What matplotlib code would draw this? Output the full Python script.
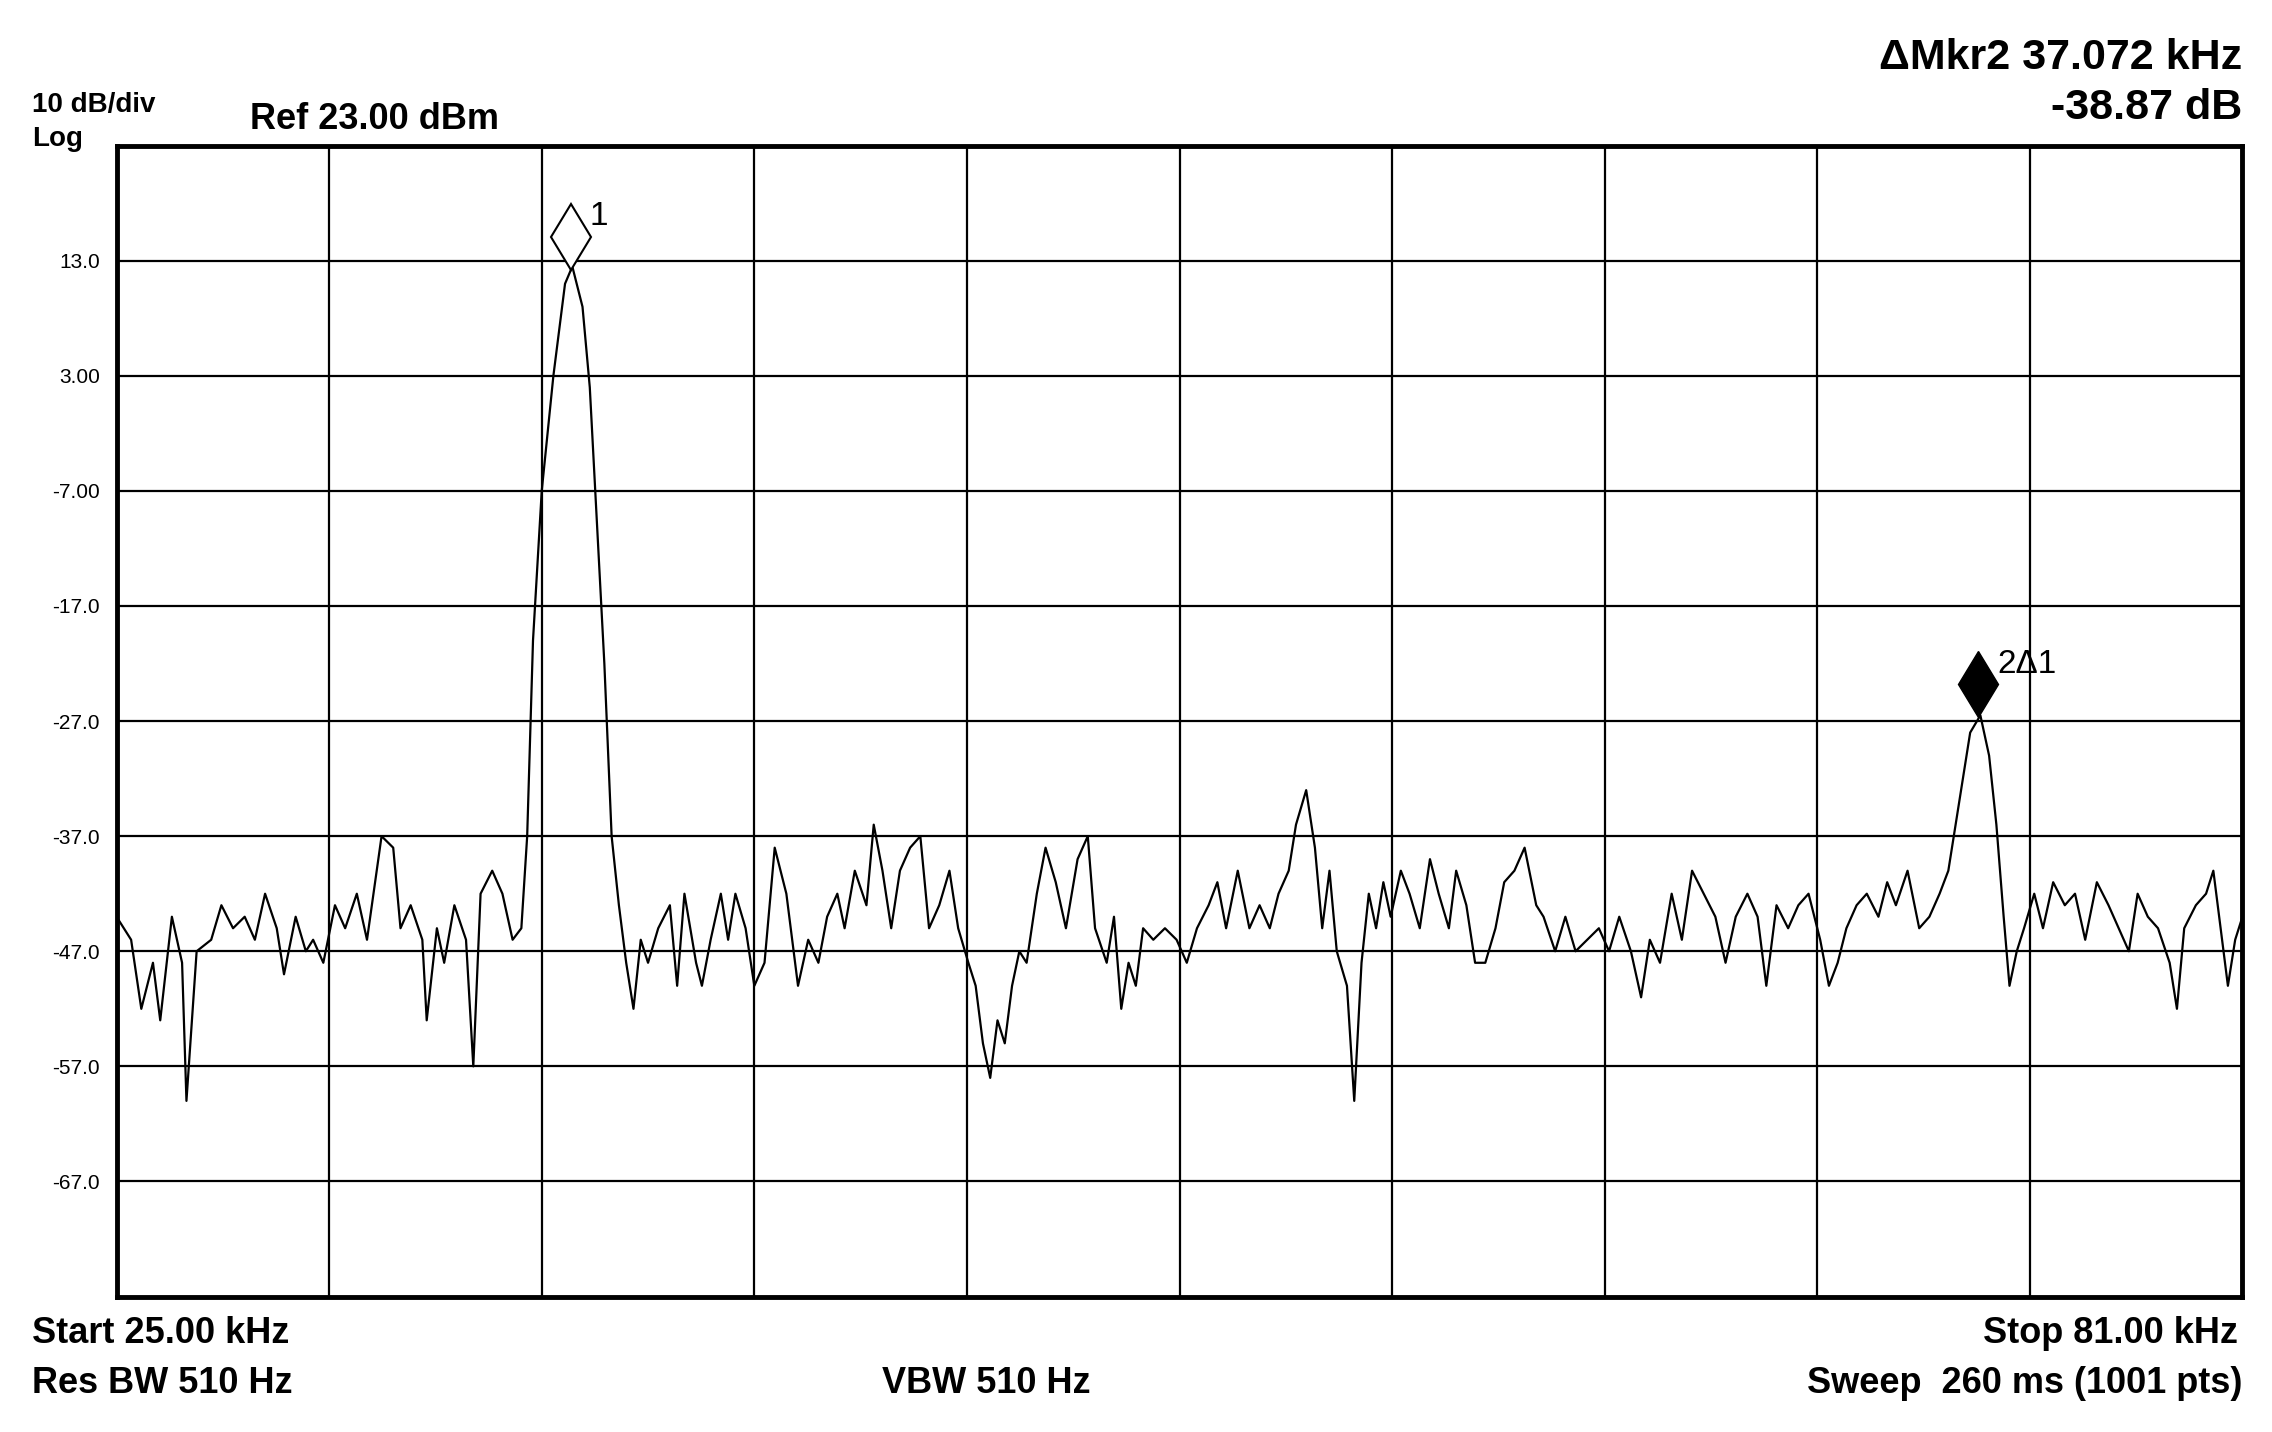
import numpy as np
import matplotlib.pyplot as plt

plt.rcParams['font.family'] = ['Liberation Sans', 'DejaVu Sans']

# trace: position across the grid (0..1460 = full span) and level in dBm
trace_pos = [0,10,17,25,30,38,45,48,55,65,72,80,88,95,102,110,115,123,130,135,142,150,157,165,172,182,190,195,202,210,213,220,225,232,240,245,250,258,265,272,278,282,286,292,300,308,313,320,325,330,335,340,345,350,355,360,365,372,380,385,390,398,402,408,415,420,425,432,438,445,452,460,468,475,482,488,495,500,507,515,520,526,532,538,545,552,558,565,572,578,585,590,595,600,605,610,615,620,625,632,638,645,652,660,667,672,680,685,690,695,700,705,712,720,728,735,742,750,756,762,770,778,785,792,798,805,810,817,823,828,833,838,845,850,855,860,865,870,875,882,888,895,902,908,915,920,927,933,940,947,953,960,967,975,980,988,995,1002,1010,1018,1025,1032,1040,1047,1053,1060,1068,1075,1082,1090,1098,1105,1112,1120,1127,1133,1140,1148,1155,1162,1170,1176,1182,1188,1195,1202,1210,1216,1222,1230,1238,1245,1252,1258,1263,1268,1273,1280,1286,1291,1296,1300,1305,1310,1317,1323,1330,1338,1345,1352,1360,1368,1375,1382,1388,1395,1402,1410,1415,1420,1428,1435,1440,1445,1450,1455,1460]
trace_db = [-44,-46,-52,-48,-53,-44,-48,-60,-47,-46,-43,-45,-44,-46,-42,-45,-49,-44,-47,-46,-48,-43,-45,-42,-46,-37,-38,-45,-43,-46,-53,-45,-48,-43,-46,-57,-42,-40,-42,-46,-45,-37,-20,-7,3,11,12.5,9,2,-10,-22,-37,-43,-48,-52,-46,-48,-45,-43,-50,-42,-48,-50,-46,-42,-46,-42,-45,-50,-48,-38,-42,-50,-46,-48,-44,-42,-45,-40,-43,-36,-40,-45,-40,-38,-37,-45,-43,-40,-45,-48,-50,-55,-58,-53,-55,-50,-47,-48,-42,-38,-41,-45,-39,-37,-45,-48,-44,-52,-48,-50,-45,-46,-45,-46,-48,-45,-43,-41,-45,-40,-45,-43,-45,-42,-40,-36,-33,-38,-45,-40,-47,-50,-60,-48,-42,-45,-41,-44,-40,-42,-45,-39,-42,-45,-40,-43,-48,-48,-45,-41,-40,-38,-43,-44,-47,-44,-47,-46,-45,-47,-44,-47,-51,-46,-48,-42,-46,-40,-42,-44,-48,-44,-42,-44,-50,-43,-45,-43,-42,-46,-50,-48,-45,-43,-42,-44,-41,-43,-40,-45,-44,-42,-40,-36,-32,-28,-26.5,-30,-36,-44,-50,-47,-45,-42,-45,-41,-43,-42,-46,-41,-43,-45,-47,-42,-44,-45,-48,-52,-45,-43,-42,-40,-45,-50,-46,-44]

f_start, f_stop = 25.0, 81.0
ref_level = 23.0
db_per_div = 10.0
ytick_labels = ['13.0', '3.00', '-7.00', '-17.0', '-27.0', '-37.0', '-47.0', '-57.0', '-67.0']
mkr1 = (36.97, 12.8)
mkr2 = (74.04, -26.1)

freq = f_start + np.array(trace_pos) / 1460.0 * (f_stop - f_start)
level = np.array(trace_db)

fig = plt.figure(figsize=(22.72, 14.32), dpi=100)
ax = fig.add_axes([0.0513, 0.0946, 0.9357, 0.8037])
ax.plot(freq, level, color='black', lw=1.6)
ax.set_xlim(f_start, f_stop)
ax.set_ylim(ref_level - 10 * db_per_div, ref_level)
ax.set_xticks(np.linspace(f_start, f_stop, 11))
ax.set_xticklabels([])
ax.set_yticks(np.arange(ref_level - 10, ref_level - 100, -10))
ax.set_yticklabels(ytick_labels, fontsize=15)
ax.tick_params(length=0, pad=12)
ax.grid(True, color='black', lw=1.6)
for s in ax.spines.values():
    s.set_linewidth(3.5)

# markers
ax.plot(mkr1[0], mkr1[1] + 2.3, marker='d', ms=34, mfc='white', mec='black', mew=1.5)
ax.text(mkr1[0] + 0.5, mkr1[1] + 3.3, '1', fontsize=24)
ax.plot(mkr2[0], mkr2[1] + 2.3, marker='d', ms=34, mfc='black', mec='black')
ax.text(mkr2[0] + 0.5, mkr2[1] + 3.3, '2Δ1', fontsize=24)

bold = dict(fontsize=26, fontweight='bold')
fig.text(0.014, 0.922, '10 dB/div', fontsize=20, fontweight='bold')
fig.text(0.014, 0.898, 'Log', fontsize=20, fontweight='bold')
fig.text(0.11, 0.91, 'Ref 23.00 dBm', **bold)
fig.text(0.987, 0.952, 'ΔMkr2 37.072 kHz', ha='right', fontsize=31, fontweight='bold')
fig.text(0.987, 0.917, '-38.87 dB', ha='right', fontsize=31, fontweight='bold')
fig.text(0.014, 0.062, 'Start 25.00 kHz', **bold)
fig.text(0.014, 0.027, 'Res BW 510 Hz', **bold)
fig.text(0.388, 0.027, 'VBW 510 Hz', **bold)
fig.text(0.985, 0.062, 'Stop 81.00 kHz', ha='right', **bold)
fig.text(0.987, 0.027, 'Sweep  260 ms (1001 pts)', ha='right', **bold)

fig.savefig('out.png', dpi=100)
